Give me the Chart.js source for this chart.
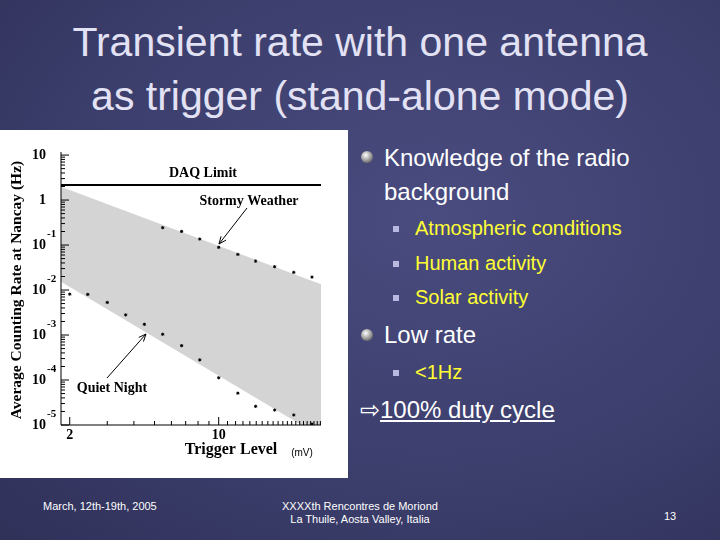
<!DOCTYPE html>
<html><head><meta charset="utf-8">
<script src="https://cdn.jsdelivr.net/npm/chart.js@4"></script>
<style>
body{margin:0;width:720px;height:540px;overflow:hidden;font-family:"Liberation Sans",Arial,sans-serif;
background:radial-gradient(ellipse at 60% 40%,#4a4c80 0%,#3b3d6b 60%,#2f3159 100%);position:relative;color:#fff}
.t{position:absolute;left:0;width:720px;text-align:center;color:#e2e2f4;font-size:41px;line-height:54px;top:15px}
#box{position:absolute;left:0;top:130px;width:348px;height:348px;background:#fff}
.b{position:absolute;font-size:24px;color:#fff;line-height:34px}
.s{position:absolute;font-size:20px;color:#ffff33;line-height:34px}
.dot{position:absolute;width:12px;height:12px;border-radius:50%;background:radial-gradient(circle at 40% 35%,#fff,#888 60%,#333)}
.sq{position:absolute;width:6px;height:6px;background:#b8b8e0}
.f{position:absolute;font-size:11px;color:#fff}
</style></head><body>
<div class="t">Transient rate with one antenna<br>as trigger (stand-alone mode)</div>
<div id="box"><canvas id="c" width="348" height="348"></canvas></div>
<div class="dot" style="left:361px;top:151px"></div>
<div class="b" style="left:384px;top:141px">Knowledge of the radio<br>background</div>
<div class="sq" style="left:393px;top:226px"></div><div class="s" style="left:415px;top:211px">Atmospheric conditions</div>
<div class="sq" style="left:393px;top:261px"></div><div class="s" style="left:415px;top:246px">Human activity</div>
<div class="sq" style="left:393px;top:295px"></div><div class="s" style="left:415px;top:280px">Solar activity</div>
<div class="dot" style="left:361px;top:329px"></div>
<div class="b" style="left:384px;top:318px">Low rate</div>
<div class="sq" style="left:393px;top:370px"></div><div class="s" style="left:415px;top:355px">&lt;1Hz</div>
<div class="b" style="left:360px;top:393px">⇨<span style="text-decoration:underline">100% duty cycle</span></div>
<div class="f" style="left:43px;top:500px">March, 12th-19th, 2005</div>
<div class="f" style="left:200px;width:320px;text-align:center;top:500px;line-height:13px">XXXXth Rencontres de Moriond<br>La Thuile, Aosta Valley, Italia</div>
<div class="f" style="left:664px;top:510px">13</div>
<script>
const quietX=[2,2.43,3,3.66,4.48,5.46,6.7,8.15,10,12.3,14.9,18.3,22.5,27.4];
const quietY=[8.1e-3,8.0e-3,5.3e-3,2.8e-3,1.73e-3,1.04e-3,5.8e-4,2.8e-4,1.12e-4,5.1e-5,2.6e-5,2.15e-5,1.67e-5,1.05e-5];
const stormX=[5.46,6.7,8.15,10,12.3,14.9,18.3,22.5,27.4];
const stormY=[0.243,0.201,0.136,0.089,0.062,0.044,0.033,0.0247,0.0194];
const bandUpper=[[1.82,1.98],[30.2,0.0134]];
const bandLower=[[1.82,0.0153],[30.2,5.5e-6]];
const daqLimit=2.15;
const xRange=[1.82,30.2], yRange=[1e-5,11.7];
const yTicks=[1,0,-1,-2,-3,-4,-5];
const xTicks=[2,10];
const pts=(xs,ys)=>xs.map((x,i)=>({x,y:ys[i]}));
const serif='"Liberation Serif","Times New Roman",serif';
const deco={id:'deco',afterDraw(ch){
 const c=ch.ctx,xs=ch.scales.x,ys=ch.scales.y,a=ch.chartArea;
 c.save();c.strokeStyle='#000';c.fillStyle='#000';c.lineWidth=1;
 c.beginPath();c.moveTo(a.left,a.top);c.lineTo(a.left,a.bottom);c.lineTo(a.right,a.bottom);c.stroke();
 c.font='bold 14px '+serif;c.textBaseline='middle';
 for(let e=-5;e<=1;e++){const py=ys.getPixelForValue(Math.pow(10,e));
  c.beginPath();c.moveTo(a.left,py);c.lineTo(a.left+8,py);c.stroke();
  for(let m=2;m<10&&e<1;m++){const q=ys.getPixelForValue(m*Math.pow(10,e));c.beginPath();c.moveTo(a.left,q);c.lineTo(a.left+4,q);c.stroke();}}
 yTicks.forEach(e=>{const py=ys.getPixelForValue(Math.pow(10,e));c.textAlign='right';
  if(e===0){c.fillText('1',46,py);}else if(e===1){c.fillText('10',46,py);}else{c.fillText('10',46,py);c.font='bold 11px '+serif;c.textAlign='left';c.fillText(String(e),47,py-11);c.font='bold 14px '+serif;}});
 for(let v=2;v<=30;v++){const px=xs.getPixelForValue(v);const l=(v===10||v===2)?8:4;c.beginPath();c.moveTo(px,a.bottom);c.lineTo(px,a.bottom-l);c.stroke();}
 c.textAlign='center';c.textBaseline='top';
 xTicks.forEach(v=>c.fillText(String(v),xs.getPixelForValue(v),a.bottom+3));
 c.font='bold 16px '+serif;c.fillText('Trigger Level',231,312);
 c.font='10px "Liberation Sans",Arial';c.fillText('(mV)',302,318);
 c.save();c.translate(17,160);c.rotate(-Math.PI/2);c.font='bold 15.5px '+serif;c.textBaseline='middle';c.fillText('Average Counting Rate at Nancay (Hz)',0,0);c.restore();
 c.font='bold 14px '+serif;c.textBaseline='middle';
 c.fillText('DAQ Limit',203,43);c.fillText('Stormy Weather',249,71);c.fillText('Quiet Night',112,258);
 const arrow=(x1,y1,x2,y2)=>{c.beginPath();c.moveTo(x1,y1);c.lineTo(x2,y2);c.stroke();const ang=Math.atan2(y2-y1,x2-x1);
  c.beginPath();c.moveTo(x2,y2);c.lineTo(x2-8*Math.cos(ang-0.4),y2-8*Math.sin(ang-0.4));c.moveTo(x2,y2);c.lineTo(x2-8*Math.cos(ang+0.4),y2-8*Math.sin(ang+0.4));c.stroke();};
 arrow(247,78,219,114);arrow(107,248,146,204);
 c.restore();}};
new Chart(document.getElementById('c'),{type:'scatter',
 data:{datasets:[
  {type:'line',data:bandUpper.map(p=>({x:p[0],y:p[1]})),borderWidth:0,pointRadius:0,fill:false,order:3},
  {type:'line',data:bandLower.map(p=>({x:p[0],y:p[1]})),borderWidth:0,pointRadius:0,fill:'-1',backgroundColor:'#d4d4d4',order:2},
  {type:'line',data:[{x:xRange[0],y:daqLimit},{x:xRange[1],y:daqLimit}],borderColor:'#000',borderWidth:2,pointRadius:0,order:1},
  {data:pts(stormX,stormY),pointStyle:'star',radius:1.6,borderColor:'#000',backgroundColor:'#000',borderWidth:1,order:0},
  {data:pts(quietX,quietY),pointStyle:'star',radius:1.6,borderColor:'#000',backgroundColor:'#000',borderWidth:1,order:0}]},
 options:{responsive:false,animation:false,layout:{padding:{left:61,right:27,top:22,bottom:53}},
  plugins:{legend:{display:false},tooltip:{enabled:false}},
  scales:{x:{type:'logarithmic',min:xRange[0],max:xRange[1],display:false},
          y:{type:'logarithmic',min:yRange[0],max:yRange[1],display:false}}},
 plugins:[deco]});
</script></body></html>
